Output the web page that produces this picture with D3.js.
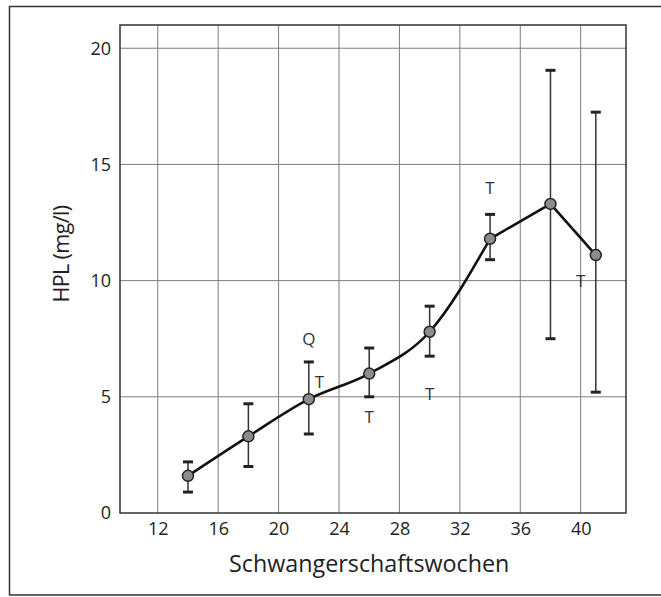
<!DOCTYPE html>
<html>
<head>
<meta charset="utf-8">
<style>
body { margin:0; background:#fff; }
svg text { font-family:"Open Sans", "Noto Sans", sans-serif; fill:#222; }
.grid line { stroke:#7d7d7d; stroke-width:1; }
.axis path, .axis line { display:none; }
</style>
</head>
<body>
<svg width="661" height="597"></svg>
<script src="https://d3js.org/d3.v7.min.js"></script>
<script>

// weeks of pregnancy and HPL values (mean, upper, lower)
let weeks = [14, 18, 22, 26, 30, 34, 38, 41];
let means = [1.6, 3.3, 4.9, 6.0, 7.8, 11.8, 13.3, 11.1];
let upper = [2.2, 4.7, 6.5, 7.1, 8.9, 12.85, 19.05, 17.25];
let lower = [0.9, 2.0, 3.4, 5.0, 6.75, 10.9, 7.5, 5.2];
let xTicks = [12, 16, 20, 24, 28, 32, 36, 40];
let yTicks = [0, 5, 10, 15, 20];
// stray letters printed in the figure
let marks = [
  {t:"Q", w:22, v:7.5},
  {t:"T", w:22.7, v:5.65},
  {t:"T", w:26, v:4.15},
  {t:"T", w:30, v:5.1},
  {t:"T", w:34, v:14.0},
  {t:"T", w:40.0, v:10.0}
];

let margin = {top:25, right:35, bottom:84, left:120},
    width = 661 - margin.left - margin.right,
    height = 597 - margin.top - margin.bottom;

let x = d3.scaleLinear().domain([9.5, 43]).range([0, width]),
    y = d3.scaleLinear().domain([0, 21]).range([height, 0]);

let svg = d3.select("svg");

// outer frame
svg.append("rect")
  .attr("x", 9.5).attr("y", 6.5)
  .attr("width", 670).attr("height", 588.5)
  .attr("fill", "none").attr("stroke", "#333").attr("stroke-width", 1.5);

let g = svg.append("g")
  .attr("transform", "translate(" + margin.left + "," + margin.top + ")");

// grid
g.append("g").attr("class", "grid")
  .selectAll("line.v").data(xTicks).join("line")
  .attr("x1", d => x(d)).attr("x2", d => x(d))
  .attr("y1", 0).attr("y2", height);

g.append("g").attr("class", "grid")
  .selectAll("line.h").data(yTicks.filter(d => d > 0)).join("line")
  .attr("x1", 0).attr("x2", width)
  .attr("y1", d => y(d)).attr("y2", d => y(d));

// plot frame
g.append("rect")
  .attr("width", width).attr("height", height)
  .attr("fill", "none").attr("stroke", "#333").attr("stroke-width", 1.5);

// axes (labels only)
g.append("g").attr("class", "axis")
  .attr("transform", "translate(0," + height + ")")
  .call(d3.axisBottom(x).tickValues(xTicks).tickSize(0).tickPadding(9))
  .selectAll("text").style("font-size", "18px").attr("fill", "#222")
  .style("font-family", "'Open Sans', sans-serif");

g.append("g").attr("class", "axis")
  .call(d3.axisLeft(y).tickValues(yTicks).tickSize(0).tickPadding(9))
  .selectAll("text").style("font-size", "18px").attr("fill", "#222")
  .style("font-family", "'Open Sans', sans-serif");

// axis titles
svg.append("text")
  .attr("x", margin.left + x(26)).attr("y", 572)
  .attr("text-anchor", "middle")
  .style("font-size", "23.3px")
  .text("Schwangerschaftswochen");

svg.append("text")
  .attr("transform", "translate(69,254) rotate(-90)")
  .attr("text-anchor", "middle")
  .style("font-size", "21.5px")
  .style("letter-spacing", "-0.6px")
  .text("HPL (mg/l)");

// error bars
let data = weeks.map((w, i) => ({w:w, m:means[i], hi:upper[i], lo:lower[i]}));

g.append("g").selectAll("line").data(data).join("line")
  .attr("x1", d => x(d.w)).attr("x2", d => x(d.w))
  .attr("y1", d => y(d.hi)).attr("y2", d => y(d.lo))
  .attr("stroke", "#333").attr("stroke-width", 1.5);

let caps = data.flatMap(d => [{w:d.w, v:d.hi}, {w:d.w, v:d.lo}]);
g.append("g").selectAll("line").data(caps).join("line")
  .attr("x1", d => x(d.w) - 5).attr("x2", d => x(d.w) + 5)
  .attr("y1", d => y(d.v)).attr("y2", d => y(d.v))
  .attr("stroke", "#222").attr("stroke-width", 3);

// mean curve: smooth up to week 34, straight after
let line = d3.line().x(d => x(d.w)).y(d => y(d.m));
g.append("path")
  .datum(data.slice(0, 6))
  .attr("fill", "none")
  .attr("stroke", "#111")
  .attr("stroke-width", 2.6)
  .attr("d", line.curve(d3.curveMonotoneX));
g.append("path")
  .datum(data.slice(5))
  .attr("fill", "none")
  .attr("stroke", "#111")
  .attr("stroke-width", 2.6)
  .attr("stroke-linejoin", "round")
  .attr("d", line.curve(d3.curveLinear));

g.append("g").selectAll("circle").data(data).join("circle")
  .attr("cx", d => x(d.w)).attr("cy", d => y(d.m))
  .attr("r", 5.5)
  .attr("fill", "#8c8c8c").attr("stroke", "#222").attr("stroke-width", 1.5);

// letters
g.append("g").selectAll("text").data(marks).join("text")
  .attr("x", d => x(d.w)).attr("y", d => y(d.v))
  .attr("text-anchor", "middle").attr("dy", "0.35em")
  .style("font-size", "17px")
  .style("fill", "#333")
  .text(d => d.t);

</script>
</body>
</html>
